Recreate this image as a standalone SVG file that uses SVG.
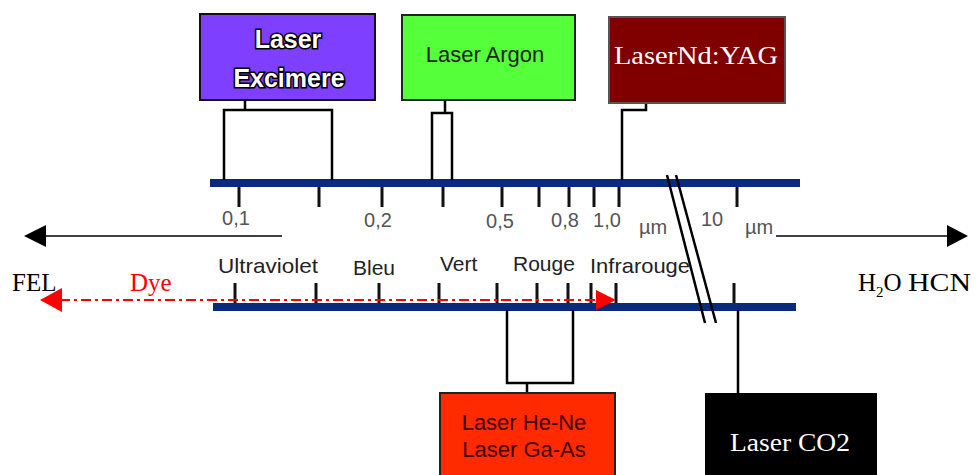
<svg xmlns="http://www.w3.org/2000/svg" width="977" height="475" viewBox="0 0 977 475">
<style>
.bar{stroke:#0a2a80;stroke-width:8;fill:none}
.ln{stroke:#000;stroke-width:2.5;fill:none}
.tk{stroke:#111;stroke-width:3;fill:none}
.num{font-family:"Liberation Sans",Arial,sans-serif;font-size:20px;fill:#555}
.band{font-family:"Liberation Sans",Arial,sans-serif;font-size:21px;fill:#222}
.serif{font-family:"Liberation Serif","Times New Roman",serif;font-size:25px}
.sans{font-family:"Liberation Sans",Arial,sans-serif;font-size:22px}
.bold{font-family:"Liberation Sans",Arial,sans-serif;font-weight:bold;font-size:25px;fill:#fff;stroke:#000;stroke-width:3;paint-order:stroke}
</style>
<g id="connectors">
<line class="bar" x1="210" y1="183" x2="800" y2="183"/>
<line class="bar" x1="213" y1="307" x2="796" y2="307"/>
<path class="ln" d="M245,100V110M224,180V110H332V180"/>
<path class="ln" d="M445,100V113M432,180V113H452V180"/>
<path class="ln" d="M646,103V110H622V180"/>
<path class="ln" d="M527,393V383M507,310V383H573V310"/>
<path class="ln" d="M738,310V393"/>
<g class="tk">
<path d="M239,187V207M319,187V207M382,187V207M443,187V207M502,187V207M539,187V207M569,187V207M594,187V207M619,187V207M737,187V207"/>
<path d="M235,283V303M316,283V303M379,283V303M439,283V303M497,283V303M537,283V303M568,283V303M591,283V303M616,283V303M734,283V303"/>
</g>
<path d="M667,175L705,323M676,175L716,323" stroke="#000" stroke-width="2.5" fill="none"/>
<line x1="282" y1="236" x2="46" y2="236" stroke="#000" stroke-width="1.5"/>
<path d="M24,236L46,225V247z" fill="#000"/>
<line x1="776" y1="236" x2="947" y2="236" stroke="#000" stroke-width="1.5"/>
<path d="M968,236L947,225V247z" fill="#000"/>
<line x1="60" y1="300" x2="597" y2="300" stroke="#f00" stroke-width="2" stroke-dasharray="10,4,3,4"/>
<path d="M40,300L62,288V312z" fill="#f00"/>
<path d="M616,300L596,290V310z" fill="#f00"/>
</g>
<g id="excimere">
<rect x="200" y="14" width="175" height="86" fill="#7f3fff" stroke="#111" stroke-width="2"/>
<text x="288" y="48" text-anchor="middle" class="bold">Laser</text>
<text x="289" y="87" text-anchor="middle" class="bold">Excimere</text>
</g>
<g id="argon">
<rect x="402" y="15" width="173" height="85" fill="#55ff3a" stroke="#222" stroke-width="2"/>
<text x="485" y="62" text-anchor="middle" class="sans" fill="#222">Laser Argon</text>
</g>
<g id="ndyag">
<rect x="609" y="17" width="176" height="86" fill="#800000" stroke="#555" stroke-width="2"/>
<text x="696" y="64" text-anchor="middle" class="serif" font-size="26" fill="#fff" textLength="164" lengthAdjust="spacingAndGlyphs">LaserNd:YAG</text>
</g>
<g id="heNe">
<rect x="440" y="393" width="175" height="84" fill="#ff2a00" stroke="#222" stroke-width="2"/>
<text x="524" y="430" text-anchor="middle" class="sans" fill="#400">Laser He-Ne</text>
<text x="524" y="457" text-anchor="middle" class="sans" fill="#400">Laser Ga-As</text>
</g>
<g id="co2">
<rect x="705" y="393" width="172" height="84" fill="#000"/>
<text x="790" y="451" text-anchor="middle" class="serif" font-size="26" fill="#fff" textLength="120" lengthAdjust="spacingAndGlyphs">Laser CO2</text>
</g>
<g id="scale">
<text class="num" x="236" y="225" text-anchor="middle">0,1</text>
<text class="num" x="378" y="227" text-anchor="middle">0,2</text>
<text class="num" x="500" y="228" text-anchor="middle">0,5</text>
<text class="num" x="565" y="227" text-anchor="middle">0,8</text>
<text class="num" x="607" y="227" text-anchor="middle">1,0</text>
<text class="num" x="653" y="234" text-anchor="middle">µm</text>
<text class="num" x="712" y="226" text-anchor="middle">10</text>
<text class="num" x="759" y="234" text-anchor="middle">µm</text>
<text class="band" x="218" y="273" textLength="100" lengthAdjust="spacingAndGlyphs">Ultraviolet</text>
<text class="band" x="353" y="275">Bleu</text>
<text class="band" x="440" y="271">Vert</text>
<text class="band" x="513" y="271">Rouge</text>
<text class="band" x="590" y="273" textLength="100" lengthAdjust="spacingAndGlyphs">Infrarouge</text>
</g>
<g id="labels">
<text class="serif" x="12" y="291" fill="#000">FEL</text>
<text class="serif" x="130" y="291" fill="#f00">Dye</text>
<text class="serif" x="858" y="291" fill="#000">H<tspan font-size="15" dy="6">2</tspan><tspan dy="-6">O</tspan><tspan x="908" textLength="63" lengthAdjust="spacingAndGlyphs">HCN</tspan></text>
</g>
</svg>
